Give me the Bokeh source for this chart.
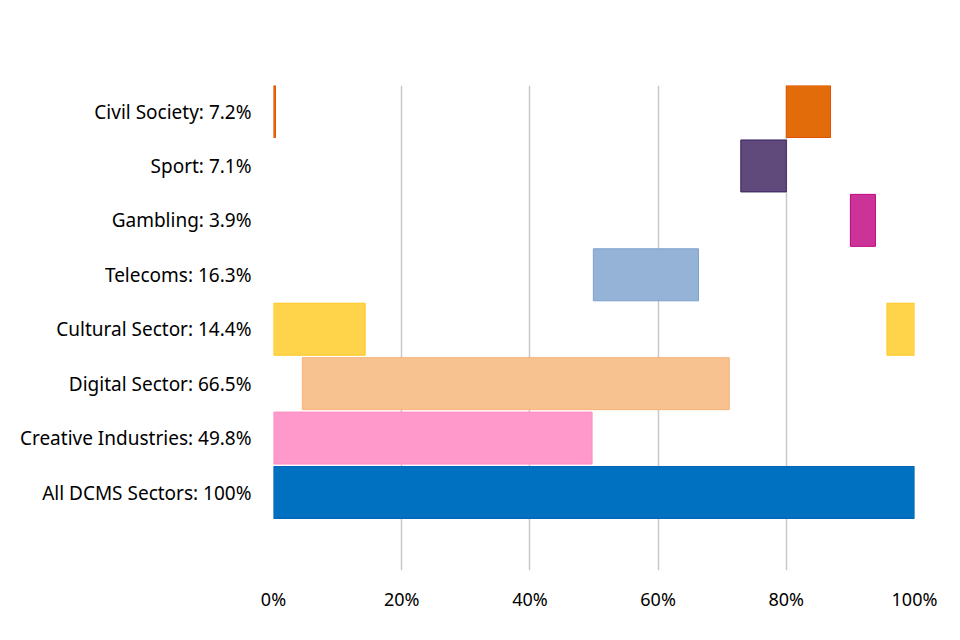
from bokeh.plotting import figure
from bokeh.models import ColumnDataSource, Range1d, FixedTicker, PrintfTickFormatter
from bokeh.embed import file_html
from bokeh.resources import INLINE

# Categories, bottom to top
categories = ["All DCMS Sectors: 100%", "Creative Industries: 49.8%", "Digital Sector: 66.5%",
              "Cultural Sector: 14.4%", "Telecoms: 16.3%", "Gambling: 3.9%",
              "Sport: 7.1%", "Civil Society: 7.2%"]

# Segments (category index, start %, end %)
seg_cat = [0, 1, 2, 3, 3, 4, 5, 6, 7, 7]
seg_start = [0.0, 0.0, 4.5, 0.0, 95.7, 49.9, 90.0, 72.9, 0.0, 80.0]
seg_end = [100.0, 49.7, 71.1, 14.3, 100.0, 66.3, 93.9, 80.0, 0.3, 86.9]

cat_fill = ["#0070C0", "#FF99CC", "#F8C290", "#FFD44B", "#95B3D7", "#CC3399",
            "#604A7B", "#E36C0A"]
cat_line = ["#0066B3", "#FF8CC6", "#F7B27A", "#FFC820", "#7DA0CF", "#C0007F",
            "#3A2160", "#E05000"]

x_ticks = [0, 20, 40, 60, 80, 100]

src = ColumnDataSource(dict(
    y=[c + 1 for c in seg_cat],
    left=seg_start,
    right=seg_end,
    fill=[cat_fill[c] for c in seg_cat],
    line=[cat_line[c] for c in seg_cat],
))

p = figure(width=944, height=624, output_backend="svg", toolbar_location=None,
           x_range=Range1d(0, 100), y_range=Range1d(-0.433, 8.478),
           min_border_left=273, min_border_right=30, min_border_top=85, min_border_bottom=54)
p.hbar(y="y", left="left", right="right", height=0.955, source=src,
       fill_color="fill", line_color="line", line_width=1)

p.outline_line_color = None
p.background_fill_color = "white"
p.ygrid.grid_line_color = None
p.xgrid.grid_line_color = "#C8C8C8"
p.xgrid.grid_line_width = 1.5
p.xgrid.ticker = FixedTicker(ticks=x_ticks)

p.xaxis.ticker = FixedTicker(ticks=x_ticks)
p.xaxis.formatter = PrintfTickFormatter(format="%d%%")
p.xaxis.axis_line_color = None
p.xaxis.major_tick_line_color = None
p.xaxis.minor_tick_line_color = None
p.xaxis.major_label_standoff = 10
p.xaxis.major_label_text_font = "Noto Sans"
p.xaxis.major_label_text_font_size = "18px"
p.xaxis.major_label_text_color = "#000000"

p.yaxis.ticker = FixedTicker(ticks=list(range(1, len(categories) + 1)))
p.yaxis.major_label_overrides = {i + 1: c for i, c in enumerate(categories)}
p.yaxis.axis_line_color = None
p.yaxis.major_tick_line_color = None
p.yaxis.minor_tick_line_color = None
p.yaxis.major_label_standoff = 16
p.yaxis.major_label_text_font = "Noto Sans"
p.yaxis.major_label_text_font_size = "19px"
p.yaxis.major_label_text_color = "#000000"

open("out.html", "w").write(file_html(p, INLINE))
